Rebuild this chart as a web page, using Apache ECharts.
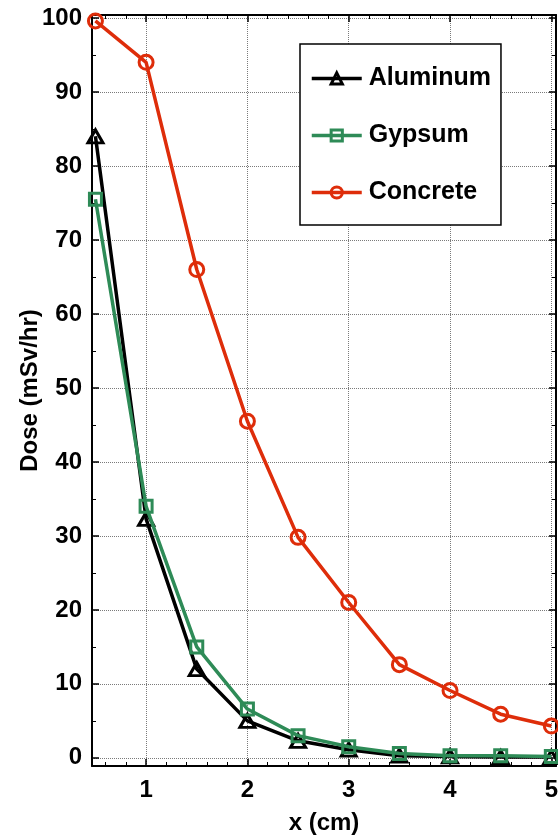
<!DOCTYPE html>
<html>
<head>
<meta charset="utf-8">
<script src="https://cdn.jsdelivr.net/npm/echarts@6/dist/echarts.min.js"></script>
<style>html,body{margin:0;padding:0;background:#fff}#c{width:558px;height:837px}</style>
</head>
<body>
<div id="c"></div>
<script>
const xValues = [0.5, 1, 1.5, 2, 2.5, 3, 3.5, 4, 4.5, 5];
const aluminum = [84, 32.3, 12, 5, 2.3, 1.1, 0.3, 0.2, 0.1, 0.1];
const gypsum = [75.5, 34, 15, 6.6, 3.0, 1.5, 0.6, 0.3, 0.3, 0.2];
const concrete = [99.6, 94, 66, 45.5, 29.8, 21, 12.6, 9.1, 5.9, 4.3];
const seriesNames = ['Aluminum', 'Gypsum', 'Concrete'];

const FONT = '"Liberation Sans", Arial, sans-serif';
const pairs = arr => xValues.map((x, i) => [x, arr[i]]);

const xMin = 0.466, xMax = 5.046, yMin = -1.1, yMax = 100.4;
const gridStyle = {show: true, lineStyle: {color: '#7a7a7a', width: 1, type: [1, 1]}};
const axisLine = {show: true, onZero: false, lineStyle: {color: '#000', width: 2}};

function xAx(pos, main) {
  return {
    type: 'value', position: pos, min: xMin, max: xMax, minInterval: 1, maxInterval: 1, splitNumber: 5,
    axisLine: axisLine,
    axisTick: {show: true, inside: true, length: 7, lineStyle: {color: '#000', width: 1.5}},
    minorTick: {show: true, splitNumber: 5, length: 4, lineStyle: {color: '#000', width: 1}},
    splitLine: main ? gridStyle : {show: false},
    axisLabel: main ? {show: true, showMinLabel: false, showMaxLabel: false, margin: 12,
      color: '#000', fontFamily: FONT, fontWeight: 'bold', fontSize: 24} : {show: false},
    name: main ? 'x (cm)' : '', nameLocation: 'middle', nameGap: 45, nameMoveOverlap: false,
    nameTextStyle: {color: '#000', fontFamily: FONT, fontWeight: 'bold', fontSize: 24}
  };
}
function yAx(pos, main) {
  return {
    type: 'value', position: pos, min: yMin, max: yMax, minInterval: 10, maxInterval: 10, splitNumber: 10,
    axisLine: axisLine,
    axisTick: {show: true, inside: true, length: 7, lineStyle: {color: '#000', width: 1.5}},
    minorTick: {show: true, splitNumber: 2, length: 4, lineStyle: {color: '#000', width: 1}},
    splitLine: main ? gridStyle : {show: false},
    axisLabel: main ? {show: true, showMinLabel: false, showMaxLabel: false, margin: 10,
      color: '#000', fontFamily: FONT, fontWeight: 'bold', fontSize: 24} : {show: false},
    name: main ? 'Dose (mSv/hr)' : '', nameLocation: 'middle', nameGap: 50, nameRotate: 90,
    nameMoveOverlap: false,
    nameTextStyle: {color: '#000', fontFamily: FONT, fontWeight: 'bold', fontSize: 24}
  };
}

const colors = ['#000000', '#2e8b57', '#de2d0a'];
const symbols = ['triangle', 'rect', 'circle'];
const sizes = [[15, 13], 12, 14];
const datas = [aluminum, gypsum, concrete];

const option = {
  animation: false,
  backgroundColor: '#fff',
  grid: {left: 92, right: 2, top: 15, bottom: 71, containLabel: false, outerBoundsMode: 'none'},
  xAxis: [xAx('bottom', true), xAx('top', false)],
  yAxis: [yAx('left', true), yAx('right', false)],
  legend: {
    orient: 'vertical', left: 300, top: 44, width: 202,
    backgroundColor: '#fff', borderColor: '#000', borderWidth: 1.5,
    padding: [22, 10, 20, 10], itemGap: 32, itemWidth: 50, itemHeight: 14,
    lineStyle: {width: 3.5},
    itemStyle: {borderWidth: 3},
    textStyle: {color: '#000', fontFamily: FONT, fontWeight: 'bold', fontSize: 25, padding: [0, 0, 0, 2]},
    data: seriesNames
  },
  series: seriesNames.map((n, i) => ({
    name: n, type: 'line', data: pairs(datas[i]),
    symbol: symbols[i], symbolSize: sizes[i], showAllSymbol: true,
    lineStyle: {color: colors[i], width: 3.5},
    itemStyle: {color: 'rgba(255,255,255,0)', borderColor: colors[i], borderWidth: 3},
    z: 3 + (i === 1 ? 1 : 0)
  }))
};
echarts.init(document.getElementById('c')).setOption(option);
</script>
</body>
</html>
